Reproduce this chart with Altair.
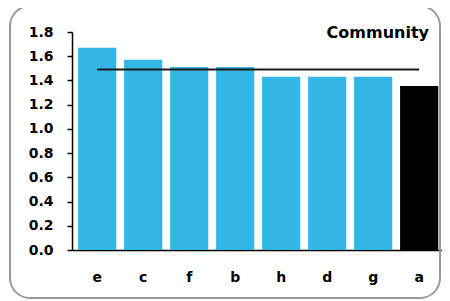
import altair as alt
import pandas as pd

categories = ["e", "c", "f", "b", "h", "d", "g", "a"]
values = [1.67, 1.57, 1.51, 1.51, 1.43, 1.43, 1.43, 1.355]
colors = ["#33B6E6"] * 7 + ["#000000"]
average = 1.49
title_text = "Community"
y_ticks = [0, 0.2, 0.4, 0.6, 0.8, 1.0, 1.2, 1.4, 1.6, 1.8]

df = pd.DataFrame({"cat": categories, "val": values, "col": colors})
line_df = pd.DataFrame({"start": [categories[0]], "end": [categories[-1]], "y": [average]})

FONT = "DejaVu Sans"

x_scale = alt.Scale(domain=categories, paddingInner=0.17, paddingOuter=0.107, align=0.62)
y_scale = alt.Scale(domain=[0, 1.8], nice=False)

x_axis = alt.Axis(labelAngle=0, ticks=False, domainColor="#000000", domainWidth=1.5,
                  labelFont=FONT, labelFontWeight="bold", labelFontSize=14,
                  labelColor="#000000", labelPadding=20, labelOverlap=False)
y_axis = alt.Axis(values=y_ticks, format=".1f", grid=False, tickSize=5, tickColor="#000000",
                  tickWidth=1.5, domainColor="#000000", domainWidth=1.5,
                  labelFont=FONT, labelFontWeight="bold", labelFontSize=14,
                  labelColor="#000000", labelPadding=14, labelOverlap=False)

bars = alt.Chart(df).mark_bar().encode(
    x=alt.X("cat:N", scale=x_scale, sort=categories, title=None, axis=x_axis),
    y=alt.Y("val:Q", scale=y_scale, title=None, axis=y_axis),
    color=alt.Color("col:N", scale=None),
)

rule = alt.Chart(line_df).mark_rule(color="#1a1a1a", strokeWidth=2).encode(
    x=alt.X("start:N", scale=x_scale, sort=categories, title=None, axis=x_axis),
    x2="end:N",
    y=alt.Y("y:Q", scale=y_scale, title=None, axis=y_axis),
)

label = alt.Chart(line_df).mark_text(
    text=title_text, font=FONT, fontWeight="bold", fontSize=16, align="right",
    baseline="middle", color="#000000"
).encode(x=alt.value(357), y=alt.value(1))

frame = alt.Chart(line_df).mark_rect(
    fill=None, stroke="#999999", strokeWidth=2, cornerRadius=20, clip=False
).encode(x=alt.value(-62), x2=alt.value(368), y=alt.value(-26), y2=alt.value(266))

chart = alt.layer(frame, bars, rule, label).properties(
    width=370, height=218,
    autosize=alt.AutoSizeParams(type="none"),
    padding={"left": 64, "top": 24, "right": 0, "bottom": 50},
).configure_view(stroke=None)

chart.save("out.html", embed_options={"renderer": "svg", "actions": False})
